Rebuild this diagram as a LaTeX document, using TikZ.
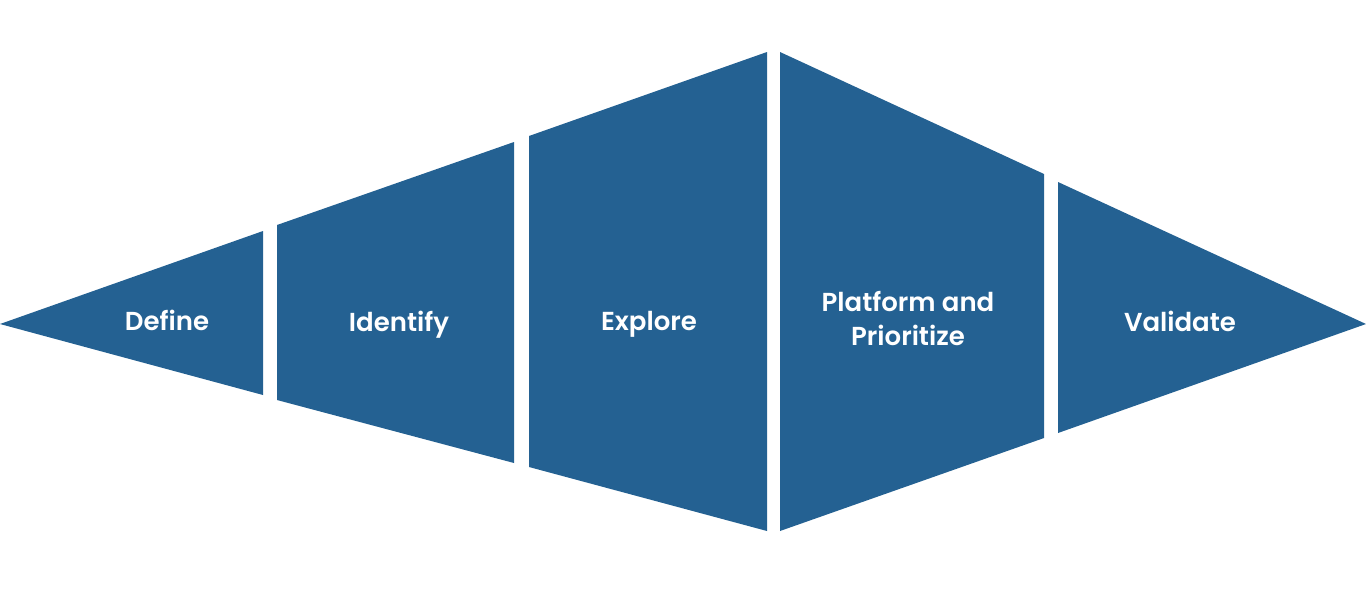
\documentclass[tikz,border=0pt]{standalone}
\usepackage{fontspec}
\setmainfont{Poppins}[BoldFont={Poppins SemiBold}]
\usepackage{xcolor}
\usepackage{tikz}
\usetikzlibrary{positioning}

\definecolor{stageblue}{HTML}{246192}

\begin{document}
\begin{tikzpicture}[
  x=0.75pt, y=-0.75pt,
  every node/.style = {font=\fontsize{19.5}{25.5}\selectfont\bfseries},
  stage/.style = {fill=stageblue, draw=none},
  lbl/.style   = {text=white, align=center, inner sep=0pt, anchor=base}
]
\useasboundingbox (0,0) rectangle (1366,601);

% the five stages, narrow - wide - narrow
\fill[stage] (0,324) -- (263,231) -- (263,395) -- cycle;
\fill[stage] (277,225) -- (514,142) -- (514,463) -- (277,400) -- cycle;
\fill[stage] (529,136) -- (767,52) -- (767,531) -- (529,467) -- cycle;
\fill[stage] (780,52) -- (1044,174) -- (1044,438) -- (780,531) -- cycle;
\fill[stage] (1058,182) -- (1366,324) -- (1058,433) -- cycle;

\node[lbl] (define)   at (167,330) {Define};
\node[lbl] (identify) at (399,331) {Identify};
\node[lbl] (explore)  at (649,330) {Explore};
\node[lbl, anchor=center] (platform) at (908,318) {Platform and\\Prioritize};
\node[lbl] (validate) at (1180,331) {Validate};

\end{tikzpicture}
\end{document}
